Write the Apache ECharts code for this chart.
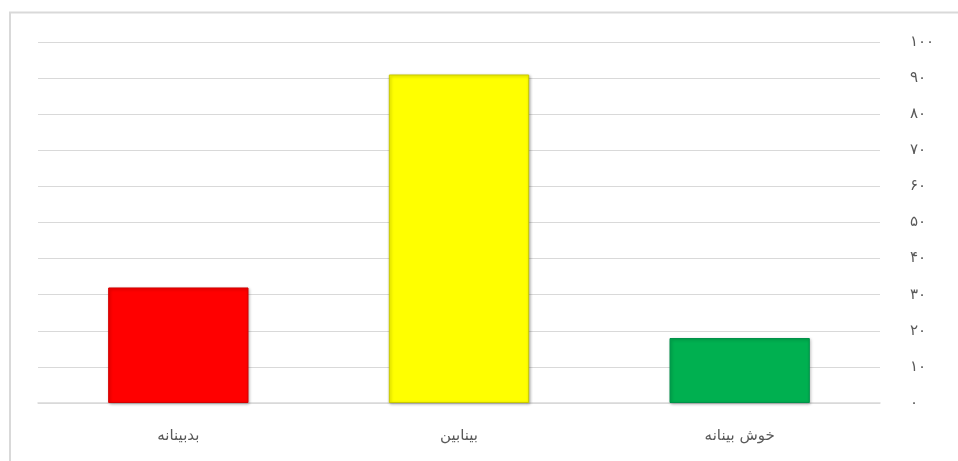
<!DOCTYPE html>
<html><head><meta charset="utf-8">
<script src="https://cdn.jsdelivr.net/npm/echarts@6/dist/echarts.min.js"></script>
<style>html,body{margin:0;padding:0;background:#fff}#c{width:958px;height:461px}</style>
</head><body><div id="c"></div>
<script>
var categories = ['بدبینانه', 'بینابین', 'خوش بینانه'];
var values = [32, 91, 18];
var barColors = ['#ff0000', '#ffff00', '#00b050'];
var barBorders = ['#d40000', '#c8c800', '#00914a'];
var tickLabels = ['۰','۱۰','۲۰','۳۰','۴۰','۵۰','۶۰','۷۰','۸۰','۹۰','۱۰۰'];

var chart = echarts.init(document.getElementById('c'));
chart.setOption({
  animation: false,
  backgroundColor: '#fff',
  graphic: [{
    type: 'polyline', silent: true,
    shape: { points: [[10, 470], [10, 12.5], [970, 12.5]] },
    style: { stroke: '#d9d9d9', lineWidth: 2, fill: null }
  }],
  grid: { left: 38, right: 78, top: 42, bottom: 58, containLabel: false },
  xAxis: {
    type: 'category', data: categories,
    axisLine: { show: true, lineStyle: { color: '#d9d9d9', width: 1.5 } },
    axisTick: { show: false },
    axisLabel: { color: '#595959', fontSize: 15, fontFamily: 'DejaVu Sans', margin: 26 }
  },
  yAxis: {
    type: 'value', position: 'right', min: 0, max: 100, interval: 10,
    axisLine: { show: false }, axisTick: { show: false },
    splitLine: { lineStyle: { color: '#d9d9d9', width: 1 } },
    axisLabel: {
      color: '#595959', fontSize: 15, fontFamily: 'DejaVu Sans', margin: 30, align: 'left',
      formatter: function (v) { return tickLabels[Math.round(v / 10)]; }
    }
  },
  series: [{
    type: 'bar', barWidth: '50%',
    data: values.map(function (v, i) {
      return {
        value: v,
        itemStyle: {
          color: barColors[i],
          borderColor: barBorders[i],
          borderWidth: 1,
          shadowColor: 'rgba(0,0,0,0.3)', shadowBlur: 3, shadowOffsetX: 1, shadowOffsetY: 1
        }
      };
    })
  }]
});
</script></body></html>
